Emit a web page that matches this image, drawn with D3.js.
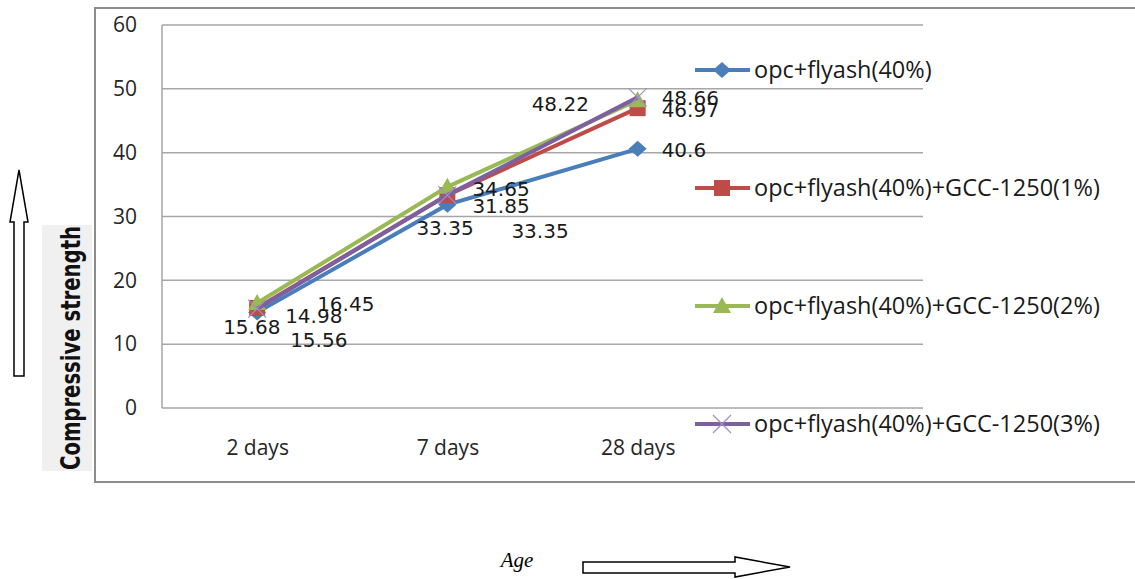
<!DOCTYPE html>
<meta charset="utf-8">
<html>
<head>
<title>Compressive strength vs age</title>
<style>
body { margin: 0; background: #fff; }
.axis text { font-family: "Open Sans", Lato, sans-serif; font-size: 21px; fill: #262626; }
.lbl { font-family: "DejaVu Sans", sans-serif; font-size: 20px; fill: #1a1a1a; }
.legend text { font-family: "Open Sans", Lato, sans-serif; font-size: 23.5px; fill: #1a1a1a; }
</style>
</head>
<body>
<svg width="1135" height="579"></svg>
<script src="https://d3js.org/d3.v7.min.js"></script>
<script>

// data
var ages = ["2 days", "7 days", "28 days"];
var seriesNames = ["opc+flyash(40%)", "opc+flyash(40%)+GCC-1250(1%)",
                   "opc+flyash(40%)+GCC-1250(2%)", "opc+flyash(40%)+GCC-1250(3%)"];
var opcFlyash  = [14.98, 31.85, 40.6];
var gcc1       = [15.68, 33.35, 46.97];
var gcc2       = [16.45, 34.65, 48.22];
var gcc3       = [15.56, 33.35, 48.66];
var yTicks     = [0, 10, 20, 30, 40, 50, 60];

// label offsets (px from the point, left edge / vertical centre) - moved by hand in the original
var labelOffsets = [
  [[28, 3], [25, 1], [24, 1]],
  [[-34, 19], [-31, 33], [24, 2]],
  [[60, 1], [25, 2], [-106, 4]],
  [[33, 31], [64, 36], [24, 0]]
];
var colors  = ["#4a7ebb", "#be4b48", "#98b954", "#7d60a0"];
var markers = ["diamond", "square", "triangle", "cross"];
var allSeries = [opcFlyash, gcc1, gcc2, gcc3];

var svg = d3.select("svg"),
    margin = {top: 25, left: 162},
    width = 761,
    height = 383;

// outer chart frame
svg.append("rect")
    .attr("x", 95).attr("y", 8)
    .attr("width", 1060).attr("height", 474)
    .attr("fill", "none").attr("stroke", "#8c8c8c").attr("stroke-width", 2);

var g = svg.append("g").attr("transform", "translate(" + margin.left + "," + margin.top + ")");

// excel kept an empty 4th category slot, so the 3 ages use 3/4 of the width
var x = d3.scalePoint().domain(ages).range([0, width * 3 / 4]).padding(0.5);
var y = d3.scaleLinear().domain([0, 60]).range([height, 0]);

// gridlines
g.append("g")
  .selectAll("line")
  .data(yTicks)
  .enter().append("line")
    .attr("x1", 0).attr("x2", width)
    .attr("y1", function(d) { return y(d); })
    .attr("y2", function(d) { return y(d); })
    .attr("stroke", "#a6a6a6").attr("stroke-width", 1.5);

g.append("line")
    .attr("x1", 0).attr("x2", 0).attr("y1", 0).attr("y2", height)
    .attr("stroke", "#a6a6a6").attr("stroke-width", 1.5);

var yAxis = g.append("g")
    .attr("class", "axis")
    .call(d3.axisLeft(y).tickValues(yTicks).tickSize(0).tickPadding(25));
yAxis.select(".domain").remove();
yAxis.selectAll("text").attr("font-family", null).attr("font-size", null);

var xAxis = g.append("g")
    .attr("class", "axis")
    .attr("transform", "translate(0," + height + ")")
    .call(d3.axisBottom(x).tickSize(0).tickPadding(32));
xAxis.select(".domain").remove();
xAxis.selectAll("text").attr("font-family", null).attr("font-size", null);

function markerPath(type) {
  if (type == "diamond") return "M0,-8L9,0L0,8L-9,0Z";
  if (type == "square") return "M-8,-8L8,-8L8,8L-8,8Z";
  if (type == "triangle") return "M0,-9L9,7L-9,7Z";
  return "M-9,-9L9,9M-9,9L9,-9";
}

function drawMarker(sel, i) {
  sel.append("path")
      .attr("d", markerPath(markers[i]))
      .attr("fill", markers[i] == "cross" ? "none" : colors[i])
      .attr("stroke", markers[i] == "cross" ? "#a18fc9" : "none")
      .attr("stroke-width", 1.2);
}

var line = d3.line()
    .x(function(d, i) { return x(ages[i]); })
    .y(function(d) { return y(d); });

allSeries.forEach(function(vals, s) {
  var sg = g.append("g");
  sg.append("path")
      .datum(vals)
      .attr("d", line)
      .attr("fill", "none")
      .attr("stroke", colors[s])
      .attr("stroke-width", 4);
  vals.forEach(function(v, i) {
    var m = sg.append("g").attr("transform", "translate(" + x(ages[i]) + "," + y(v) + ")");
    drawMarker(m, s);
  });
});

// data labels on top
allSeries.forEach(function(vals, s) {
  g.append("g")
    .selectAll("text")
    .data(vals)
    .enter().append("text")
      .attr("class", "lbl")
      .attr("x", function(d, i) { return x(ages[i]) + labelOffsets[s][i][0]; })
      .attr("y", function(d, i) { return y(d) + labelOffsets[s][i][1]; })
      .attr("dy", "0.36em")
      .text(function(d) { return d; });
});

// legend
var legend = svg.append("g")
    .attr("class", "legend")
    .selectAll("g")
    .data(seriesNames)
    .enter().append("g")
    .attr("transform", function(d, i) { return "translate(695," + (70 + i * 118) + ")"; });

legend.append("line")
    .attr("x1", 0).attr("x2", 55)
    .attr("stroke", function(d, i) { return colors[i]; })
    .attr("stroke-width", 4);

legend.each(function(d, i) {
  var m = d3.select(this).append("g").attr("transform", "translate(27,0)");
  drawMarker(m, i);
});

legend.append("text")
    .attr("x", 59)
    .attr("dy", "0.35em")
    .text(function(d) { return d; });

// y axis title with its grey backdrop and arrow
svg.append("rect")
    .attr("x", 42).attr("y", 225).attr("width", 50).attr("height", 246)
    .attr("fill", "#f0f0f0");
svg.append("text")
    .attr("transform", "translate(80,470) rotate(-90)")
    .attr("font-family", "'DejaVu Sans Condensed', 'DejaVu Sans', sans-serif")
    .attr("font-weight", "bold")
    .attr("font-size", 27)
    .attr("textLength", 244)
    .attr("lengthAdjust", "spacingAndGlyphs")
    .attr("fill", "#111")
    .text("Compressive strength");

svg.append("path")
    .attr("d", "M14,376L24,376L24,222L28,222L19,170L10,222L14,222Z")
    .attr("fill", "#fff").attr("stroke", "#000").attr("stroke-width", 1.5);

// x axis title and arrow
svg.append("text")
    .attr("x", 517).attr("y", 567)
    .attr("text-anchor", "middle")
    .attr("font-family", "'Liberation Serif', serif")
    .attr("font-style", "italic")
    .attr("font-size", 21)
    .attr("fill", "#000")
    .text("Age");

svg.append("path")
    .attr("d", "M583,562L735,562L735,557L790,567L735,577L735,573L583,573Z")
    .attr("fill", "#fff").attr("stroke", "#000").attr("stroke-width", 1.5);

</script>
</body>
</html>
